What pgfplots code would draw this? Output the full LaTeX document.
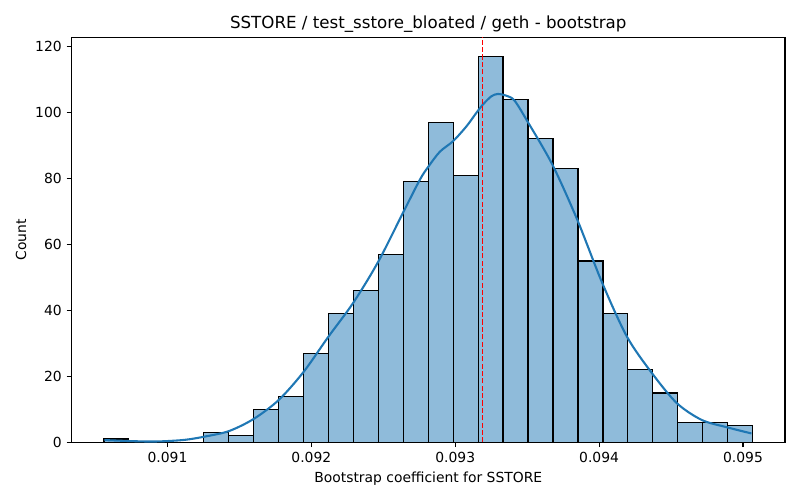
\documentclass[border=0pt]{standalone}
\usepackage{pgfplots}
\pgfplotsset{compat=1.18}
\usepackage{fontspec}
\setmainfont{DejaVu Sans}
\definecolor{histfill}{HTML}{8FBBDA}
\definecolor{kdeblue}{HTML}{1F77B4}
\begin{document}
\begin{tikzpicture}
\useasboundingbox (0,0) rectangle (576pt,360pt);
\begin{axis}[
  at={(51.5pt,41.5pt)}, anchor=south west,
  scale only axis, width=513.7pt, height=291.8pt,
  xmin=0.090333, xmax=0.095292, ymin=0, ymax=122.85,
  axis line style={line width=0.8pt},
  tick align=outside, major tick length=3.5pt,
  tick style={black, line width=0.8pt},
  xtick={0.091,0.092,0.093,0.094,0.095},
  xticklabels={0.091,0.092,0.093,0.094,0.095},
  ytick={0,20,40,60,80,100,120},
  scaled x ticks=false,
  /pgf/number format/assume math mode=true,
  ticklabel style={font=\fontsize{10}{12}\selectfont},
  xtick pos=bottom, ytick pos=left,
  xlabel={Bootstrap coefficient for SSTORE},
  ylabel={Count},
  label style={font=\fontsize{10}{12}\selectfont},
  xlabel style={yshift=0pt},
  ylabel style={yshift=-0.5pt},
  title={SSTORE / test\_sstore\_bloated / geth - bootstrap},
  title style={font=\fontsize{12}{14}\selectfont, yshift=-6pt},
  clip=false,
]
\addplot[ybar interval, fill=histfill, draw=black, line width=0.9pt] coordinates {
(0.09055800,1) (0.09073142,0) (0.09090484,0) (0.09107826,0)
(0.09125168,3) (0.09142510,2) (0.09159852,10) (0.09177194,14)
(0.09194536,27) (0.09211878,39) (0.09229220,46) (0.09246562,57)
(0.09263904,79) (0.09281246,97) (0.09298588,81) (0.09315930,117)
(0.09333272,104) (0.09350614,92) (0.09367956,83) (0.09385298,55)
(0.09402640,39) (0.09419982,22) (0.09437324,15) (0.09454666,6)
(0.09472008,6) (0.09489350,5) (0.09506692,5)
};
\addplot[kdeblue, line width=1.5pt, smooth, tension=0.5] coordinates {
(0.090561,0.7) (0.090734,0.4) (0.090886,0.25) (0.091003,0.4)
(0.091128,0.8) (0.091253,1.7) (0.091426,3.4) (0.091599,7.1)
(0.091772,12.8) (0.091945,21.3) (0.092118,32.0) (0.092291,42.3)
(0.092464,54.7) (0.092637,69.6) (0.092754,79.6) (0.092812,83.5)
(0.092893,88.1) (0.092985,91.3) (0.093078,95.8) (0.093147,99.9)
(0.093192,102.4) (0.093251,104.9) (0.093296,105.6) (0.093354,105.1)
(0.093412,103.6) (0.093502,97.3) (0.093675,84.2) (0.093848,67.5)
(0.094021,48.4) (0.094194,32.0) (0.094367,21.0) (0.094540,11.9)
(0.094713,6.8) (0.094886,4.6) (0.095059,2.7)
};
\addplot[red, line width=1pt, dash pattern=on 3.7pt off 1.6pt] coordinates {(0.093190,0) (0.093190,122.85)};
\end{axis}
\end{tikzpicture}
\end{document}
